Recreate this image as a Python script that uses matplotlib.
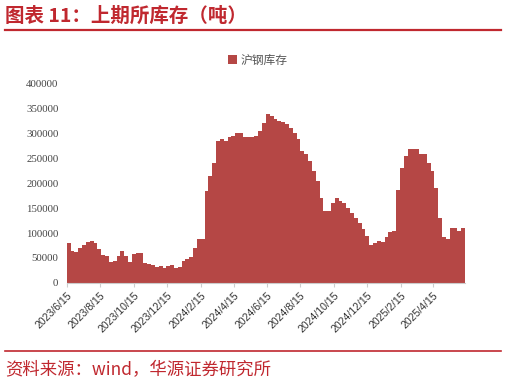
import numpy as np
import pandas as pd
import matplotlib
matplotlib.use("Agg")
import matplotlib.pyplot as plt
import matplotlib.dates as mdates
from matplotlib.lines import Line2D

plt.rcParams['font.family'] = ['Noto Sans CJK SC', 'DejaVu Sans']

# weekly SHFE inventory (tonnes)
start_date = '2023-06-15'
inventory = [
    80000, 64000, 63000, 70000, 76000, 82000, 84000, 80000, 68000, 56000,
    54000, 42000, 44000, 55000, 65000, 55000, 42000, 58000, 60000, 60000,
    40000, 38000, 36000, 32000, 34000, 30000, 33000, 35000, 30000, 32000,
    44000, 48000, 52000, 70000, 88000, 88000, 185000, 215000, 240000, 285000,
    288000, 285000, 292000, 295000, 300000, 300000, 292000, 292000, 293000, 294000,
    305000, 320000, 338000, 335000, 328000, 324000, 322000, 318000, 310000, 300000,
    288000, 265000, 258000, 245000, 225000, 205000, 170000, 145000, 145000, 160000,
    170000, 165000, 160000, 150000, 140000, 130000, 120000, 108000, 95000, 76000,
    80000, 85000, 82000, 92000, 102000, 104000, 186000, 230000, 255000, 268000,
    268000, 268000, 258000, 258000, 240000, 225000, 190000, 130000, 92000, 88000,
    110000, 110000, 104000, 110000,
]
tick_labels = ['2023/6/15', '2023/8/15', '2023/10/15', '2023/12/15', '2024/2/15',
               '2024/4/15', '2024/6/15', '2024/8/15', '2024/10/15', '2024/12/15',
               '2025/2/15', '2025/4/15']
y_ticks = [0, 50000, 100000, 150000, 200000, 250000, 300000, 350000, 400000]

dates = pd.date_range(start_date, periods=len(inventory), freq='7D')
tick_dates = pd.to_datetime(tick_labels, format='%Y/%m/%d')

red = '#C0282F'
bar_color = '#B54745'

fig = plt.figure(figsize=(5.06, 3.85), dpi=100)
ax = fig.add_axes([0.132, 0.265, 0.787, 0.519])

ax.bar(dates, inventory, width=7, align='edge', color=bar_color, linewidth=0, label='沪钢库存')
ax.set_xlim(dates[0], dates[-1] + pd.Timedelta(days=7))
ax.set_ylim(0, 400000)

ax.set_yticks(y_ticks)
ax.set_yticklabels([str(v) for v in y_ticks], family='Liberation Serif', fontsize=7.8, color='#444444')
ax.set_xticks(tick_dates)
ax.set_xticklabels(tick_labels, rotation=45, ha='right', rotation_mode='anchor',
                   family='Liberation Sans', fontsize=7.6, color='#333333')
ax.tick_params(axis='y', length=0, pad=6)
ax.tick_params(axis='x', length=3, color='#cccccc', pad=2)

for side in ['top', 'right', 'left']:
    ax.spines[side].set_visible(False)
ax.spines['bottom'].set_color('#cccccc')

ax.legend(loc='upper center', bbox_to_anchor=(0.48, 1.2), frameon=False,
          fontsize=8.5, handlelength=0.8, handleheight=0.8, handletextpad=0.3,
          labelcolor='#555555')

# title, rules and source note
fig.text(0.01, 0.958, '图表 11：上期所库存（吨）', color=red, fontsize=14, fontweight='bold', va='center')
fig.add_artist(Line2D([0.01, 0.99], [0.922, 0.922], color=red, lw=1.6, transform=fig.transFigure))
fig.add_artist(Line2D([0.01, 0.99], [0.088, 0.088], color=red, lw=1.2, transform=fig.transFigure))
fig.text(0.01, 0.038, '资料来源：wind，华源证券研究所', color=red, fontsize=12.5, va='center')

fig.savefig('out.png', dpi=100)
